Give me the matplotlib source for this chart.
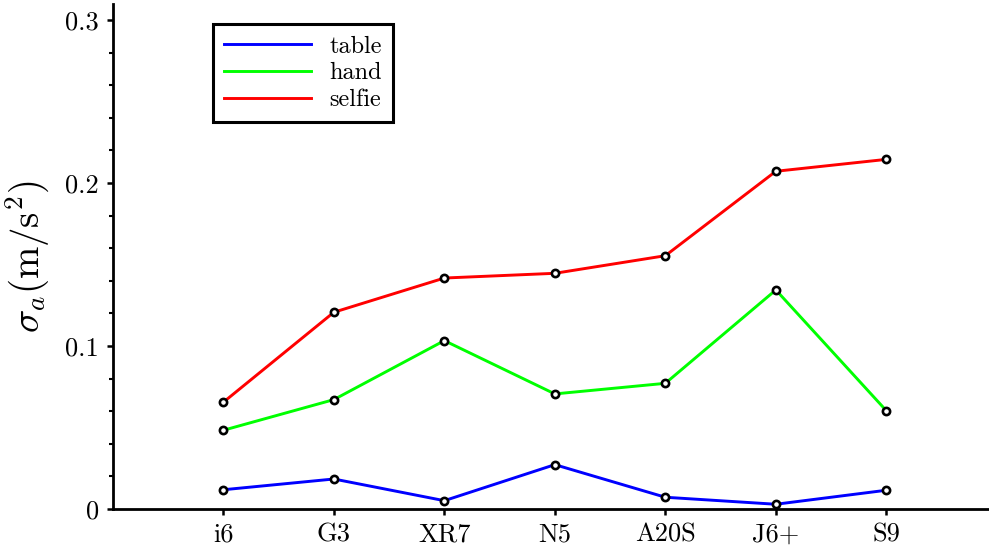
import numpy as np
import matplotlib
matplotlib.use("Agg")
import matplotlib.pyplot as plt
from matplotlib.ticker import MultipleLocator

plt.rcParams['font.family'] = ['cmr10', 'DejaVu Sans']
plt.rcParams['mathtext.fontset'] = 'cm'
plt.rcParams['axes.formatter.use_mathtext'] = True

phones = ['i6', 'G3', 'XR7', 'N5', 'A20S', 'J6+', 'S9']
table = [0.0118, 0.0184, 0.0051, 0.0272, 0.0072, 0.0029, 0.0115]
hand = [0.0483, 0.0671, 0.1033, 0.0706, 0.0771, 0.1344, 0.0603]
selfie = [0.0655, 0.1207, 0.1417, 0.1446, 0.1554, 0.2072, 0.2145]

x = np.arange(1, len(phones) + 1)

fig = plt.figure(figsize=(9.89, 5.48), dpi=100)
ax = fig.add_axes([0.1141, 0.0712, 0.886, 0.922])

for vals, col, name in [(table, '#0000ff', 'table'),
                        (hand, '#00ff00', 'hand'),
                        (selfie, '#ff0000', 'selfie')]:
	ax.plot(x, vals, color=col, lw=2.1, label=name, zorder=2)
	ax.plot(x, vals, ls='none', marker='o', ms=5.2, mfc='white', mec='black', mew=1.9, zorder=3)

ax.set_xlim(0, 7.93)
ax.set_ylim(0, 0.31)
ax.set_xticks(x)
ax.set_xticklabels(phones)
ax.set_yticks([0, 0.1, 0.2, 0.3])
ax.set_yticklabels(['0', '0.1', '0.2', '0.3'])
ax.yaxis.set_minor_locator(MultipleLocator(0.02))

for s in ['top', 'right']:
	ax.spines[s].set_visible(False)
for s in ['left', 'bottom']:
	ax.spines[s].set_linewidth(2)

ax.tick_params(axis='both', which='major', direction='out', length=4, width=1.8, labelsize=19, pad=6)
ax.tick_params(axis='y', which='minor', direction='out', length=3, width=1.5)
ax.tick_params(axis='x', which='minor', length=0)

ax.set_ylabel(r'$\sigma_a(\mathrm{m/s^2})$', fontsize=28, labelpad=10)

leg = ax.legend(loc='upper left', bbox_to_anchor=(0.114, 0.959), borderaxespad=0,
	fontsize=17.5, handlelength=3.6, handletextpad=0.75, labelspacing=0.2,
	fancybox=False, framealpha=1, edgecolor='black', borderpad=0.45)
leg.get_frame().set_linewidth(2.2)

fig.savefig('out.png', dpi=100)
